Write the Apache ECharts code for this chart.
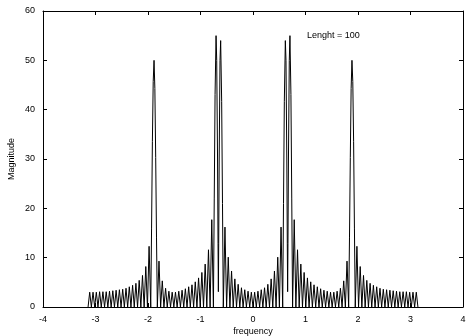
<!DOCTYPE html>
<html>
<head>
<meta charset="utf-8">
<script src="https://cdn.jsdelivr.net/npm/echarts@6/dist/echarts.min.js"></script>
<style>
html,body{margin:0;padding:0;background:#fff;}
#chart{width:467px;height:336px;}
</style>
</head>
<body>
<div id="chart"></div>
<script>
// frequency (rad/sample) and DFT magnitude
var freq = [
-3.1416,-3.1102,-3.0788,-3.0473,-3.0159,-2.9845,-2.9531,-2.9217,-2.8903,-2.8588,
-2.8274,-2.7960,-2.7646,-2.7332,-2.7018,-2.6704,-2.6389,-2.6075,-2.5761,-2.5447,
-2.5133,-2.4819,-2.4504,-2.4190,-2.3876,-2.3562,-2.3248,-2.2934,-2.2619,-2.2305,
-2.1991,-2.1677,-2.1363,-2.1049,-2.0735,-2.0420,-2.0106,-1.9792,-1.9478,-1.9321,
-1.9164,-1.9007,-1.8850,-1.8692,-1.8535,-1.8378,-1.8221,-1.7907,-1.7593,-1.7279,
-1.6965,-1.6650,-1.6336,-1.6022,-1.5708,-1.5394,-1.5080,-1.4765,-1.4451,-1.4137,
-1.3823,-1.3509,-1.3195,-1.2881,-1.2566,-1.2252,-1.1938,-1.1624,-1.1310,-1.0996,
-1.0681,-1.0367,-1.0053,-0.9739,-0.9425,-0.9111,-0.8796,-0.8482,-0.8168,-0.7854,
-0.7540,-0.7383,-0.7226,-0.7037,-0.6912,-0.6754,-0.6660,-0.6597,-0.6535,-0.6440,
-0.6283,-0.6158,-0.5969,-0.5812,-0.5655,-0.5341,-0.5027,-0.4712,-0.4398,-0.4084,
-0.3770,-0.3456,-0.3142,-0.2827,-0.2513,-0.2199,-0.1885,-0.1571,-0.1257,-0.0942,
-0.0628,-0.0314,
0.0000,
0.0314,0.0628,0.0942,0.1257,0.1571,0.1885,0.2199,0.2513,0.2827,0.3142,
0.3456,0.3770,0.4084,0.4398,0.4712,0.5027,0.5341,0.5655,0.5812,0.5969,
0.6158,0.6283,0.6440,0.6535,0.6597,0.6660,0.6754,0.6912,0.7037,0.7226,
0.7383,0.7540,0.7854,0.8168,0.8482,0.8796,0.9111,0.9425,0.9739,1.0053,
1.0367,1.0681,1.0996,1.1310,1.1624,1.1938,1.2252,1.2566,1.2881,1.3195,
1.3509,1.3823,1.4137,1.4451,1.4765,1.5080,1.5394,1.5708,1.6022,1.6336,
1.6650,1.6965,1.7279,1.7593,1.7907,1.8221,1.8378,1.8535,1.8692,1.8850,
1.9007,1.9164,1.9321,1.9478,1.9792,2.0106,2.0420,2.0735,2.1049,2.1363,
2.1677,2.1991,2.2305,2.2619,2.2934,2.3248,2.3562,2.3876,2.4190,2.4504,
2.4819,2.5133,2.5447,2.5761,2.6075,2.6389,2.6704,2.7018,2.7332,2.7646,
2.7960,2.8274,2.8588,2.8903,2.9217,2.9531,2.9845,3.0159,3.0473,3.0788,
3.1102,3.1416
];
var magnitude = [
0,3.0,0,3.0,0,3.0,0,3.1,0,3.1,
0,3.1,0,3.2,0,3.3,0,3.4,0,3.5,
0,3.6,0,3.8,0,4.1,0,4.4,0,4.8,
0,5.4,0,6.4,0,8.2,0,12.3,0,16.0,
33.5,45.7,50.0,44.3,30.3,14.0,0,9.3,0,5.3,
0,3.8,0,3.2,0,3.0,0,3.0,0,3.2,
0,3.4,0,3.7,0,4.1,0,4.5,0,5.1,
0,5.9,0,7.0,0,8.7,0,11.6,0,17.7,
0,21.9,43.1,55.0,50.0,30.2,12.8,3.1,12.8,30.0,
50.0,54.0,41.7,21.0,0,16.2,0,10.1,0,7.3,
0,5.7,0,4.6,0,3.9,0,3.5,0,3.2,
0,3.0,
0,
3.0,0,3.2,0,3.5,0,3.9,0,4.6,0,
5.7,0,7.3,0,10.1,0,16.2,0,21.0,41.7,
54.0,50.0,30.0,12.8,3.1,12.8,30.2,50.0,55.0,43.1,
21.9,0,17.7,0,11.6,0,8.7,0,7.0,0,
5.9,0,5.1,0,4.5,0,4.1,0,3.7,0,
3.4,0,3.2,0,3.0,0,3.0,0,3.2,0,
3.8,0,5.3,0,9.3,0,14.0,30.3,44.3,50.0,
45.7,33.5,16.0,0,12.3,0,8.2,0,6.4,0,
5.4,0,4.8,0,4.4,0,4.1,0,3.8,0,
3.6,0,3.5,0,3.4,0,3.3,0,3.2,0,
3.1,0,3.1,0,3.1,0,3.0,0,3.0,0,
3.0,0
];
var xTicks = [-4, -3, -2, -1, 0, 1, 2, 3, 4];
var yTicks = [0, 10, 20, 30, 40, 50, 60];
var keyText = 'Lenght = 100';

var FONT = '"Liberation Sans", Arial, sans-serif';
var pts = [];
for (var i = 0; i < freq.length; i++) pts.push([freq[i], magnitude[i]]);

var axisLine = { show: true, onZero: false, lineStyle: { color: '#000', width: 1 } };
var tick = { show: true, inside: true, length: 4, lineStyle: { color: '#000', width: 1 } };
var lbl = { show: true, color: '#000', fontSize: 9, fontFamily: FONT };

var chart = echarts.init(document.getElementById('chart'), null, { renderer: 'canvas' });
chart.setOption({
  animation: false,
  backgroundColor: '#fff',
  grid: { left: 43, right: 4, top: 11, bottom: 29, containLabel: false, outerBoundsMode: 'none' },
  xAxis: [
    { type: 'value', position: 'bottom', min: xTicks[0], max: xTicks[xTicks.length - 1], interval: 1,
      axisLine: axisLine, axisTick: tick, splitLine: { show: false },
      axisLabel: Object.assign({ margin: 8, showMinLabel: true, showMaxLabel: true }, lbl),
      name: 'frequency', nameLocation: 'middle', nameGap: 20, nameMoveOverlap: false,
      nameTextStyle: { color: '#000', fontSize: 9, fontFamily: FONT } },
    { type: 'value', position: 'top', min: xTicks[0], max: xTicks[xTicks.length - 1], interval: 1,
      axisLine: axisLine, axisTick: tick, splitLine: { show: false }, axisLabel: { show: false } }
  ],
  yAxis: [
    { type: 'value', position: 'left', min: yTicks[0], max: yTicks[yTicks.length - 1], interval: 10,
      axisLine: axisLine, axisTick: tick, splitLine: { show: false },
      axisLabel: Object.assign({ margin: 8 }, lbl),
      name: 'Magnitude', nameLocation: 'middle', nameGap: 27, nameRotate: 90, nameMoveOverlap: false,
      nameTextStyle: { color: '#000', fontSize: 9, fontFamily: FONT } },
    { type: 'value', position: 'right', min: yTicks[0], max: yTicks[yTicks.length - 1], interval: 10,
      axisLine: axisLine, axisTick: tick, splitLine: { show: false }, axisLabel: { show: false } }
  ],
  graphic: [
    { type: 'text', left: 307, top: 31,
      style: { text: keyText, fill: '#000', font: '9px ' + FONT } }
  ],
  series: [{
    type: 'line', data: pts, xAxisIndex: 0, yAxisIndex: 0,
    showSymbol: false, symbol: 'none', smooth: false,
    lineStyle: { color: '#000', width: 1 },
    emphasis: { disabled: true }
  }]
});
</script>
</body>
</html>
